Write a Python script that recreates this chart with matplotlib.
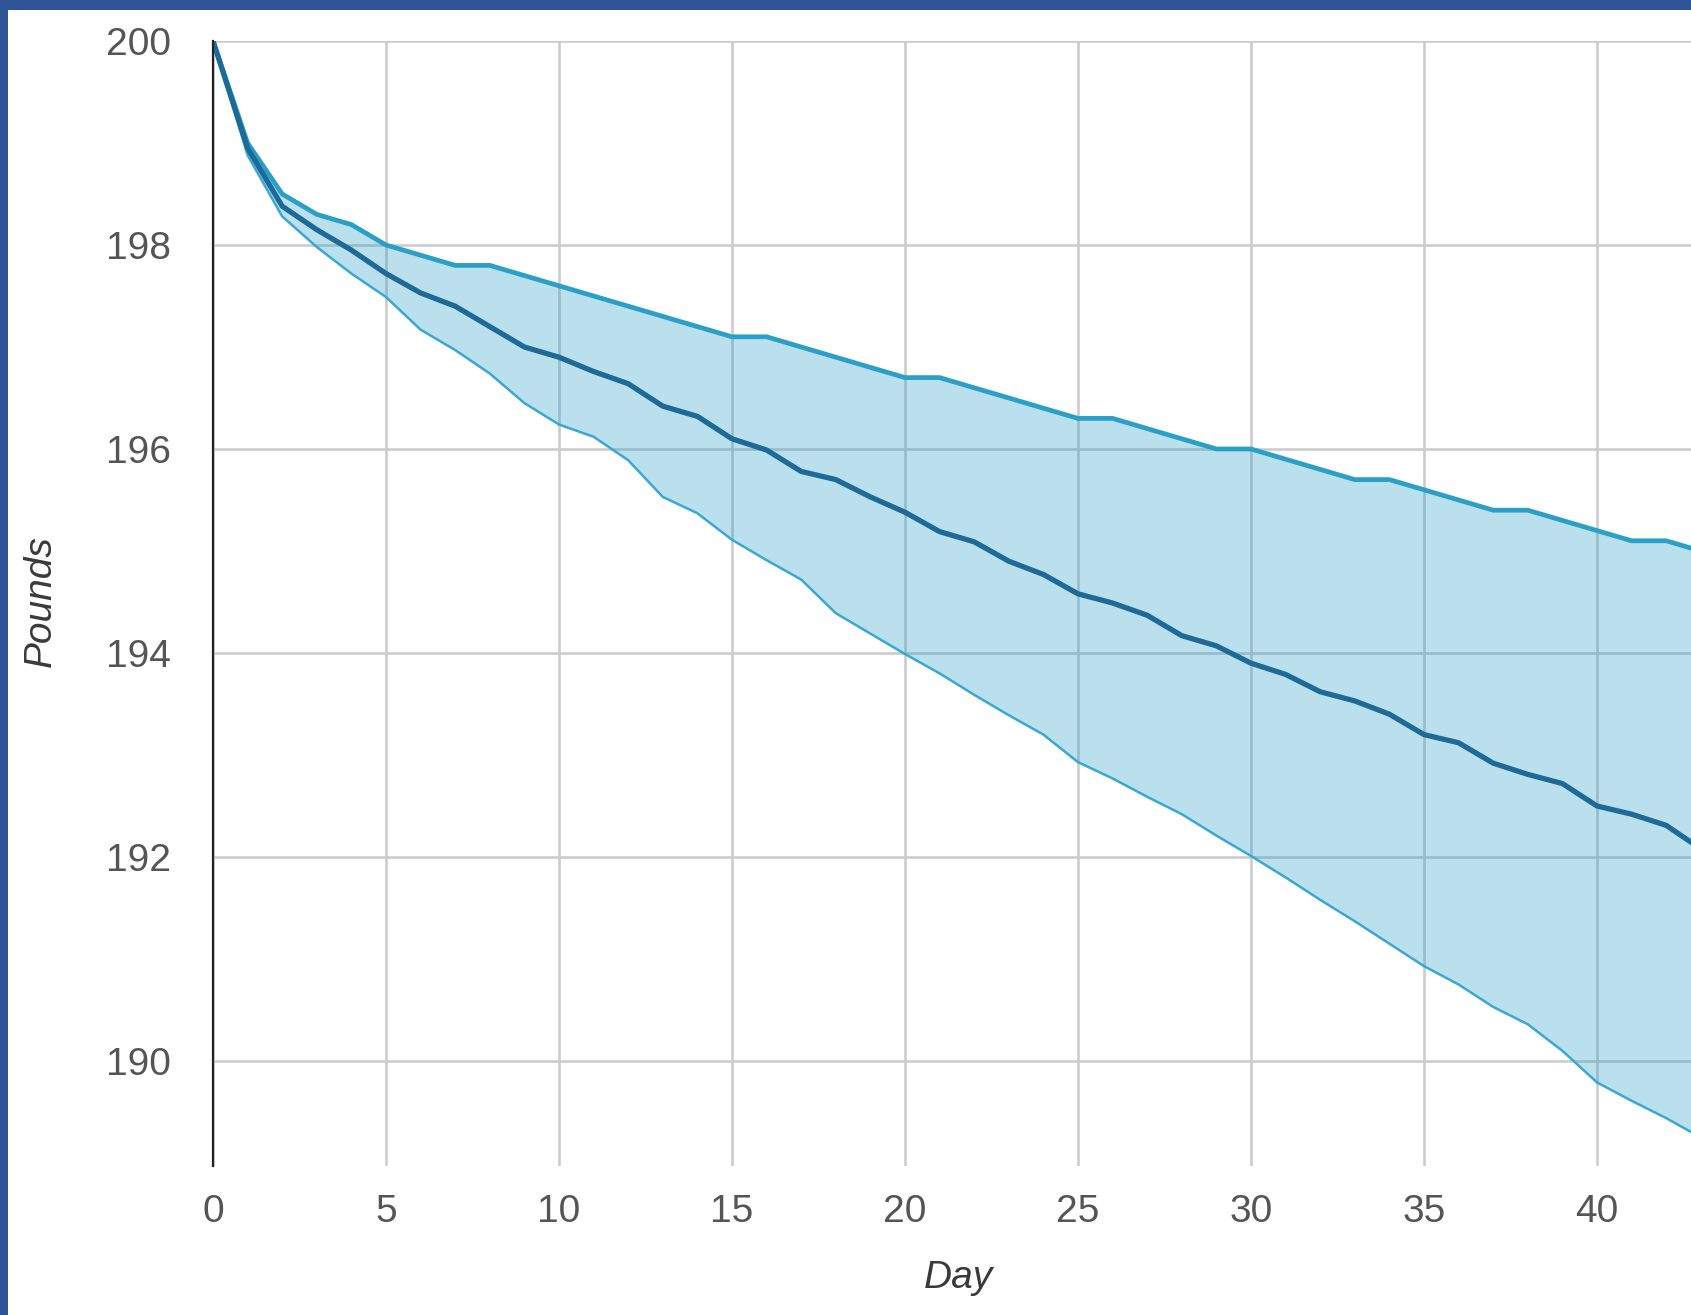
import matplotlib
matplotlib.use("Agg")
import matplotlib.pyplot as plt
from matplotlib.patches import Rectangle

# day index
days = list(range(44))

# upper bound of weight band
upper = [200.0, 199.0, 198.5, 198.3, 198.2, 198.0, 197.9, 197.8, 197.8, 197.7,
         197.6, 197.5, 197.4, 197.3, 197.2, 197.1, 197.1, 197.0, 196.9, 196.8,
         196.7, 196.7, 196.6, 196.5, 196.4, 196.3, 196.3, 196.2, 196.1, 196.0,
         196.0, 195.9, 195.8, 195.7, 195.7, 195.6, 195.5, 195.4, 195.4, 195.3,
         195.2, 195.1, 195.1, 195.0]

# expected weight
mean = [200.0, 198.95, 198.38, 198.15, 197.95, 197.72, 197.53, 197.40, 197.20, 197.00,
        196.90, 196.76, 196.64, 196.42, 196.32, 196.10, 195.99, 195.78, 195.70, 195.53,
        195.38, 195.19, 195.09, 194.90, 194.77, 194.58, 194.49, 194.37, 194.17, 194.07,
        193.90, 193.79, 193.62, 193.53, 193.40, 193.20, 193.12, 192.92, 192.81, 192.72,
        192.50, 192.42, 192.31, 192.08]

# lower bound of weight band
lower = [200.0, 198.88, 198.28, 197.98, 197.72, 197.49, 197.17, 196.97, 196.74, 196.45,
         196.24, 196.12, 195.89, 195.53, 195.37, 195.11, 194.91, 194.72, 194.39, 194.19,
         193.99, 193.80, 193.59, 193.39, 193.20, 192.93, 192.77, 192.59, 192.42, 192.21,
         192.01, 191.80, 191.58, 191.37, 191.15, 190.93, 190.75, 190.53, 190.36, 190.10,
         189.79, 189.61, 189.44, 189.25]

xticks = [0, 5, 10, 15, 20, 25, 30, 35, 40]
yticks = [190, 192, 194, 196, 198, 200]

plt.rcParams['font.family'] = ['Liberation Sans', 'DejaVu Sans']

W, H = 1691, 1315
fig = plt.figure(figsize=(W / 100, H / 100), dpi=100, facecolor='white')
# blue frame on top and left edge
fig.patches.append(Rectangle((0, 1 - 10 / H), 1, 10 / H, transform=fig.transFigure,
                             facecolor='#2E5597', edgecolor='none'))
fig.patches.append(Rectangle((0, 0), 8 / W, 1, transform=fig.transFigure,
                             facecolor='#2E5597', edgecolor='none'))

ax = fig.add_axes([213 / W, 1 - 1166 / H, 1 - 213 / W, (1166 - 41) / H])
ax.set_facecolor('white')

ax.fill_between(days, lower, upper, color='#1C9AC9', alpha=0.3, lw=0, zorder=2)
ax.plot(days, lower, color='#3AA8D0', lw=1.8, zorder=3, solid_joinstyle='round')
ax.plot(days, upper, color='#2A9FC7', lw=3.4, zorder=4, solid_joinstyle='round')
ax.plot(days, mean, color='#1D6A98', lw=3.8, zorder=5, solid_joinstyle='round')

ax.set_xlim(0, (W - 213) / 34.6)
ax.set_ylim(200 - (1166 - 41) / 102, 200)

ax.set_xticks(xticks)
ax.set_yticks(yticks)
ax.set_xticklabels([str(t) for t in xticks])
ax.set_yticklabels([str(t) for t in yticks])
ax.tick_params(length=0, labelsize=28, labelcolor='#555555')
ax.tick_params(axis='y', pad=30)
ax.tick_params(axis='x', pad=20)

ax.grid(True, color='#CCCCCC', lw=1.9)
ax.set_axisbelow(True)
for s in ['top', 'right', 'bottom']:
    ax.spines[s].set_visible(False)
ax.spines['left'].set_color('#222222')
ax.spines['left'].set_linewidth(1.6)
ax.spines['left'].set_zorder(6)

fig.text(958 / W, 1 - 1278 / H, 'Day', fontsize=28, style='italic',
         color='#3a3a3a', ha='center', va='center')
fig.text(41 / W, 1 - 601 / H, 'Pounds', fontsize=28, style='italic',
         color='#3a3a3a', ha='center', va='center', rotation=90)

fig.savefig('out.png', dpi=100)
